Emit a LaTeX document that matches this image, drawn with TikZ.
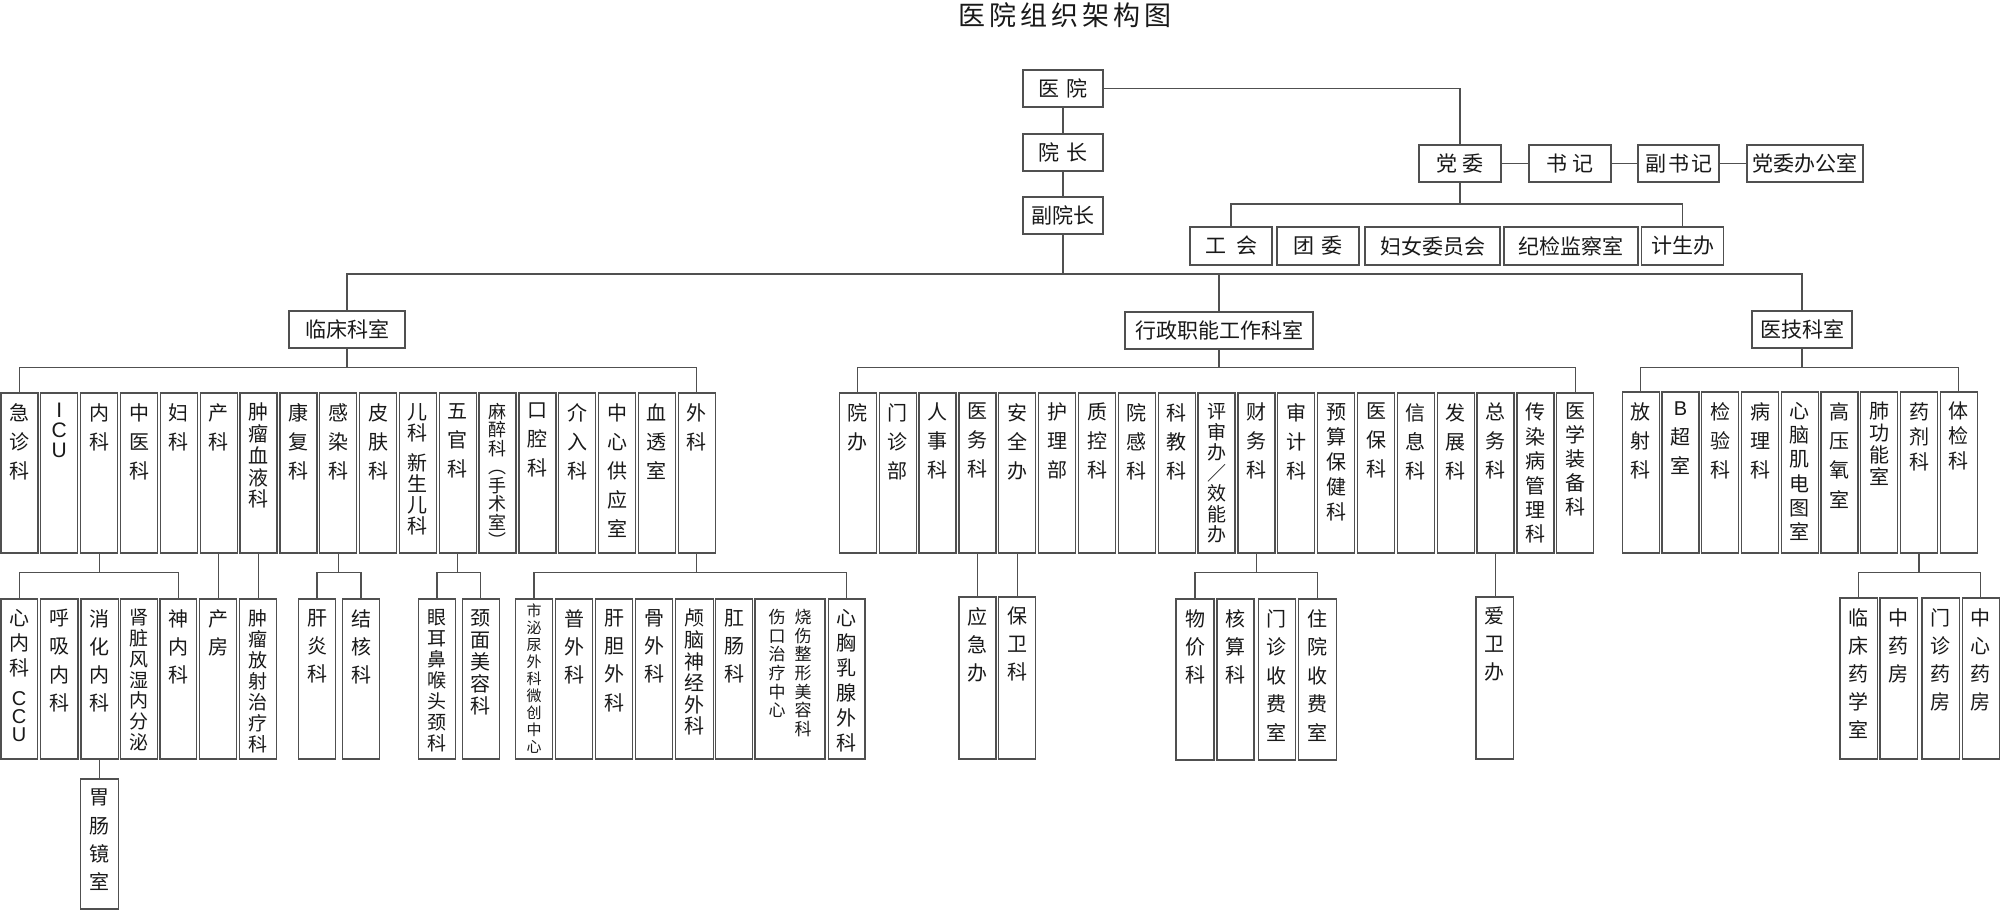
\documentclass[tikz,border=0pt]{standalone}
\usepackage{fontspec}
\setmainfont{Noto Sans CJK SC}
\newfontfamily\lat{Liberation Sans}
\definecolor{lnc}{HTML}{505050}
\tikzset{
 bx/.style={draw=lnc, line width=1.3pt, fill=white, inner sep=0pt, outer sep=0pt, anchor=north west, rectangle},
 ln/.style={draw=lnc, line width=1.3pt},
 fs/.style 2 args={font=\fontsize{#1}{#2}\selectfont},
 vt/.style={anchor=north, inner sep=0pt, align=center, text=black!90, fs={20}{29}},
 ht/.style={inner sep=0pt, text=black!90, fs={21}{21}},
}
% name, x, y, w, h, opts, text
\newcommand\vb[7]{%
 \node[bx, minimum width=#4, minimum height=#5] (#1) at (#2,#3) {};
 \node[vt, #6] (#1t) at ([yshift=-10pt]#1.north) {#7};}
% name, x, y, w, h, text
\newcommand\hb[6]{%
 \node[bx, minimum width=#4, minimum height=#5] (#1) at (#2,#3) {};
 \node[ht] (#1t) at (#1.center) {#6};}
\newcommand\bus[4]{%
 \draw[ln] (#1.south) -- (#1.south |- #4);
 \draw[ln] (#2.north) -- (#2.north |- #4) -- (#3.north |- #4) -- (#3.north);}
\newcommand\drop[2]{\draw[ln] (#1.south) -- (#1.south |- #2.north);}
\begin{document}
\begin{tikzpicture}[x=1pt,y=-1pt]
\useasboundingbox[fill=white] (0,0) rectangle (2000,910);
\node[inner sep=0pt, fs={27}{27}, text=black!90] (title) at (1065,15) {医\hspace{4pt}院\hspace{4pt}组\hspace{4pt}织\hspace{4pt}架\hspace{4pt}构\hspace{4pt}图};
% top
\hb{yy}{1023}{70}{80}{37}{医\hspace{7pt}院}
\hb{yz}{1023}{134}{80}{37}{院\hspace{7pt}长}
\hb{fyz}{1023}{197}{80}{37}{副院长}
\hb{dw}{1419}{145}{82}{37}{党\hspace{5pt}委}
\hb{sj}{1529}{145}{82}{37}{书\hspace{5pt}记}
\hb{fsj}{1638}{145}{81}{37}{副\hspace{2pt}书\hspace{2pt}记}
\hb{dwb}{1747}{145}{116}{37}{党委办公室}
\hb{gh}{1190}{227}{82}{38}{工\hspace{10pt}会}
\hb{tw}{1277}{227}{82}{38}{团\hspace{7pt}委}
\hb{fn}{1365}{227}{135}{38}{妇女委员会}
\hb{jj}{1504}{227}{134}{38}{纪检监察室}
\hb{jsb}{1641.5}{227}{82}{38}{计生办}
\hb{lc}{289}{311}{116}{37}{临床科室}
\hb{xz}{1125}{312}{188}{37}{行政职能工作科室}
\hb{yj}{1752}{311}{100}{37}{医技科室}
% clinical row
\vb{c0}{1.0}{393}{37}{160}{}{急\\诊\\科}
\vb{c1}{40.8}{393}{37}{160}{font=\lat\fontsize{21}{20}\selectfont}{I\\C\\U}
\vb{c2}{80.7}{393}{37}{160}{}{内\\科}
\vb{c3}{120.5}{393}{37}{160}{}{中\\医\\科}
\vb{c4}{160.4}{393}{37}{160}{}{妇\\科}
\vb{c5}{200.2}{393}{37}{160}{}{产\\科}
\vb{c6}{240.0}{393}{37}{160}{fs={20}{21.7}}{肿\\瘤\\血\\液\\科}
\vb{c7}{279.9}{393}{37}{160}{}{康\\复\\科}
\vb{c8}{319.7}{393}{37}{160}{}{感\\染\\科}
\vb{c9}{359.6}{393}{37}{160}{}{皮\\肤\\科}
\vb{c10}{399.4}{393}{37}{160}{fs={20}{21}}{儿\\科\\[9pt]新\\生\\儿\\科}
\vb{c11}{439.2}{393}{37}{160}{}{五\\官\\科}
\vb{c12}{479.1}{393}{37}{160}{fs={18}{18.5}}{麻\\醉\\科\\︵\\手\\术\\室\\︶}
\vb{c13}{518.9}{393}{37}{160}{}{口\\腔\\科}
\vb{c14}{558.8}{393}{37}{160}{}{介\\入\\科}
\vb{c15}{598.6}{393}{37}{160}{}{中\\心\\供\\应\\室}
\vb{c16}{638.4}{393}{37}{160}{}{血\\透\\室}
\vb{c17}{678.3}{393}{37}{160}{}{外\\科}
% admin row
\vb{a0}{839.3}{393}{37}{160}{}{院\\办}
\vb{a1}{879.2}{393}{37}{160}{}{门\\诊\\部}
\vb{a2}{919.0}{393}{37}{160}{}{人\\事\\科}
\vb{a3}{958.9}{393}{37}{160}{}{医\\务\\科}
\vb{a4}{998.7}{393}{37}{160}{}{安\\全\\办}
\vb{a5}{1038.6}{393}{37}{160}{}{护\\理\\部}
\vb{a6}{1078.5}{393}{37}{160}{}{质\\控\\科}
\vb{a7}{1118.3}{393}{37}{160}{}{院\\感\\科}
\vb{a8}{1158.2}{393}{37}{160}{}{科\\教\\科}
\vb{a9}{1198.0}{393}{37}{160}{fs={19}{20.5}}{评\\审\\办\\／\\效\\能\\办}
\vb{a10}{1237.9}{393}{37}{160}{}{财\\务\\科}
\vb{a11}{1277.8}{393}{37}{160}{}{审\\计\\科}
\vb{a12}{1317.6}{393}{37}{160}{fs={20}{25}}{预\\算\\保\\健\\科}
\vb{a13}{1357.5}{393}{37}{160}{}{医\\保\\科}
\vb{a14}{1397.3}{393}{37}{160}{}{信\\息\\科}
\vb{a15}{1437.2}{393}{37}{160}{}{发\\展\\科}
\vb{a16}{1477.1}{393}{37}{160}{}{总\\务\\科}
\vb{a17}{1516.9}{393}{37}{160}{fs={20}{24.4}}{传\\染\\病\\管\\理\\科}
\vb{a18}{1556.8}{393}{37}{160}{fs={20}{24}}{医\\学\\装\\备\\科}
% tech row
\vb{t0}{1622.3}{392}{37}{161}{}{放\\射\\科}
\vb{t1}{1662.0}{392}{37}{161}{}{{\lat B}\\超\\室}
\vb{t2}{1701.8}{392}{37}{161}{}{检\\验\\科}
\vb{t3}{1741.6}{392}{37}{161}{}{病\\理\\科}
\vb{t4}{1781.3}{392}{37}{161}{fs={20}{24.3}}{心\\脑\\肌\\电\\图\\室}
\vb{t5}{1821.1}{392}{37}{161}{fs={20}{29.4}}{高\\压\\氧\\室}
\vb{t6}{1860.8}{392}{37}{161}{fs={20}{22}}{肺\\功\\能\\室}
\vb{t7}{1900.6}{392}{37}{161}{fs={20}{25}}{药\\剂\\科}
\vb{t8}{1940.3}{392}{37}{161}{fs={20}{25}}{体\\检\\科}
% second level clinical
\vb{n0}{1.0}{599}{36.3}{160}{fs={20}{25}}{心\\内\\科\\[5pt]{\lat C}\\[-7pt]{\lat C}\\[-7pt]{\lat U}}
\vb{n1}{40.7}{599}{37.3}{160}{fs={20}{28.3}}{呼\\吸\\内\\科}
\vb{n2}{81.0}{599}{37.3}{160}{fs={20}{28.3}}{消\\化\\内\\科}
\vb{n3}{120.7}{599}{37}{160}{fs={19}{20.8}}{肾\\脏\\风\\湿\\内\\分\\泌}
\vb{n4}{160.0}{599}{36.7}{160}{fs={20}{28.3}}{神\\内\\科}
\vb{n5}{199.3}{599}{37.4}{160}{fs={20}{28.3}}{产\\房}
\vb{n6}{239.3}{599}{37.4}{160}{fs={19}{21}}{肿\\瘤\\放\\射\\治\\疗\\科}
\vb{n7}{298.3}{599}{37.4}{160}{fs={20}{28.3}}{肝\\炎\\科}
\vb{n8}{342.3}{599}{37.4}{160}{fs={20}{28.3}}{结\\核\\科}
\vb{n9}{418.3}{599}{37.4}{160}{fs={19}{21}}{眼\\耳\\鼻\\喉\\头\\颈\\科}
\vb{n10}{462.3}{599}{37}{160}{fs={20}{22}}{颈\\面\\美\\容\\科}
\vb{n11}{80.7}{779}{37.6}{130}{fs={20}{28.3}}{胃\\肠\\镜\\室}
% surgery children
\vb{s0}{515.7}{599}{36.6}{160}{fs={15}{17}, yshift=5pt}{市\\泌\\尿\\外\\科\\微\\创\\中\\心}
\vb{s1}{555.7}{599}{37}{160}{fs={20}{28.3}}{普\\外\\科}
\vb{s2}{595.7}{599}{36.6}{160}{fs={20}{28.3}}{肝\\胆\\外\\科}
\vb{s3}{635.7}{599}{37}{160}{fs={20}{28}}{骨\\外\\科}
\vb{s4}{675.7}{599}{37.6}{160}{fs={20}{21.6}}{颅\\脑\\神\\经\\外\\科}
\vb{s5}{715.7}{599}{37}{160}{fs={20}{28.3}}{肛\\肠\\科}
\node[bx, minimum width=70, minimum height=160] (s6) at (755,599) {};
\node[vt, fs={17}{18.7}] (s6t) at ([xshift=13pt, yshift=-10pt]s6.north) {烧\\伤\\整\\形\\美\\容\\科};
\node[vt, fs={17}{18.7}] (s6u) at ([xshift=-13pt, yshift=-10pt]s6.north) {伤\\口\\治\\疗\\中\\心};
\vb{s7}{828.3}{599}{36.7}{160}{fs={20}{25}}{心\\胸\\乳\\腺\\外\\科}
% second level admin
\vb{m0}{958.9}{597}{37}{162}{fs={20}{28}}{应\\急\\办}
\vb{m1}{998.7}{597}{37}{162}{fs={20}{28}}{保\\卫\\科}
\vb{m2}{1176.0}{599}{38}{161}{fs={20}{28}}{物\\价\\科}
\vb{m3}{1217.0}{599}{37}{161}{fs={20}{28}}{核\\算\\科}
\vb{m4}{1258.4}{599}{37}{161}{fs={20}{28.6}}{门\\诊\\收\\费\\室}
\vb{m5}{1298.5}{599}{37.9}{161}{fs={20}{28.6}}{住\\院\\收\\费\\室}
\vb{m6}{1476.0}{597}{37.6}{162}{fs={20}{28}}{爱\\卫\\办}
% second level tech
\vb{p0}{1840.0}{598}{37.3}{161}{fs={20}{28}}{临\\床\\药\\学\\室}
\vb{p1}{1880.0}{598}{37.3}{161}{fs={20}{28}}{中\\药\\房}
\vb{p2}{1922.0}{598}{37.3}{161}{fs={20}{28}}{门\\诊\\药\\房}
\vb{p3}{1962.3}{598}{37}{161}{fs={20}{28}}{中\\心\\药\\房}
% connectors
\coordinate (B1) at (0,204);
\coordinate (B2) at (0,274);
\coordinate (B3) at (0,367.3);
\coordinate (B4) at (0,572.7);
\draw[ln] (yy.south) -- (yz.north);
\draw[ln] (yz.south) -- (fyz.north);
\draw[ln] (yy.east) -| (dw.north);
\draw[ln] (dw.east) -- (sj.west);
\draw[ln] (sj.east) -- (fsj.west);
\draw[ln] (fsj.east) -- (dwb.west);
\bus{dw}{gh}{jsb}{B1}
\bus{fyz}{lc}{yj}{B2}
\draw[ln] (xz.north) -- (xz.north |- B2);
\bus{lc}{c0}{c17}{B3}
\bus{xz}{a0}{a18}{B3}
\bus{yj}{t0}{t8}{B3}
\bus{c2}{n0}{n4}{B4}
\drop{c5}{n5}
\drop{c6}{n6}
\bus{c8}{n7}{n8}{B4}
\bus{c11}{n9}{n10}{B4}
\bus{c17}{s0}{s7}{B4}
\drop{n2}{n11}
\drop{a3}{m0}
\drop{a4}{m1}
\bus{a10}{m2}{m5}{B4}
\drop{a16}{m6}
\bus{t7}{p0}{p3}{B4}
\end{tikzpicture}
\end{document}
